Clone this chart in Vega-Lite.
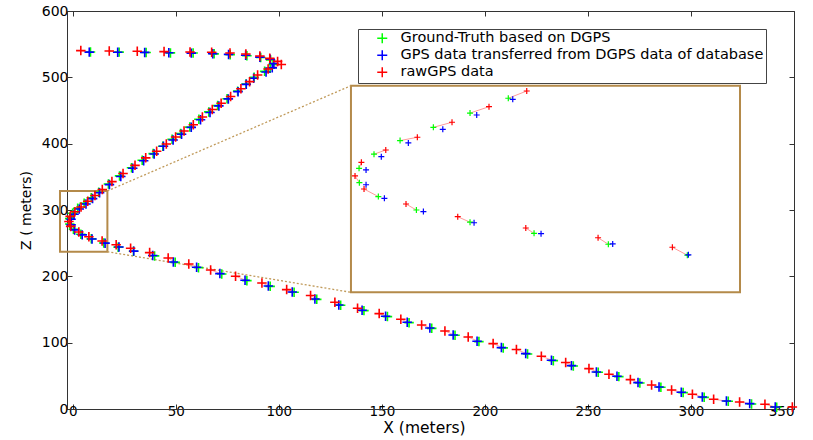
{
  "$schema": "https://vega.github.io/schema/vega-lite/v6.json",
  "autosize": {"type": "none"},
  "padding": {"left": 67, "top": 11, "right": 19, "bottom": 31},
  "width": 727,
  "height": 398,
  "background": "white",
  "config": {
    "view": {"stroke": "#333", "strokeWidth": 1},
    "font": "DejaVu Sans",
    "axis": {"grid": false, "labelFont": "DejaVu Sans", "labelFontSize": 14, "labelColor": "#000", "titleFont": "DejaVu Sans", "titleColor": "#000", "titleFontWeight": "normal", "domainColor": "#333", "tickColor": "#333", "tickSize": -5}
  },
  "datasets": {
    "boxes": [
      {"kind": "zoom", "x": -6.2, "x2": 16.8, "z": 237.1, "z2": 328.7},
      {"kind": "inset", "x": 135.0, "x2": 323.8, "z": 175.9, "z2": 487.4}
    ],
    "connectors": [
      {"x": 16.8, "z": 328.7, "x2": 135.0, "z2": 487.4},
      {"x": 16.8, "z": 237.1, "x2": 135.0, "z2": 175.9}
    ],
    "track": [
      {"i":1,"series":"Ground-Truth based on DGPS","x":8.6,"z":538.3},
      {"i":2,"series":"Ground-Truth based on DGPS","x":22.5,"z":538.0},
      {"i":3,"series":"Ground-Truth based on DGPS","x":35.6,"z":537.4},
      {"i":4,"series":"Ground-Truth based on DGPS","x":47.4,"z":536.8},
      {"i":5,"series":"Ground-Truth based on DGPS","x":58.4,"z":536.6},
      {"i":6,"series":"Ground-Truth based on DGPS","x":68.6,"z":535.4},
      {"i":7,"series":"Ground-Truth based on DGPS","x":76.4,"z":534.2},
      {"i":8,"series":"Ground-Truth based on DGPS","x":84.5,"z":532.6},
      {"i":9,"series":"Ground-Truth based on DGPS","x":91.2,"z":529.8},
      {"i":10,"series":"Ground-Truth based on DGPS","x":96.0,"z":526.1},
      {"i":11,"series":"Ground-Truth based on DGPS","x":97.2,"z":519.6},
      {"i":12,"series":"Ground-Truth based on DGPS","x":95.8,"z":513.6},
      {"i":13,"series":"Ground-Truth based on DGPS","x":93.1,"z":509.0},
      {"i":14,"series":"Ground-Truth based on DGPS","x":88.0,"z":500.1},
      {"i":15,"series":"Ground-Truth based on DGPS","x":84.1,"z":490.0},
      {"i":16,"series":"Ground-Truth based on DGPS","x":80.0,"z":479.2},
      {"i":17,"series":"Ground-Truth based on DGPS","x":74.9,"z":467.8},
      {"i":18,"series":"Ground-Truth based on DGPS","x":70.3,"z":457.4},
      {"i":19,"series":"Ground-Truth based on DGPS","x":66.0,"z":447.9},
      {"i":20,"series":"Ground-Truth based on DGPS","x":61.2,"z":436.8},
      {"i":21,"series":"Ground-Truth based on DGPS","x":56.8,"z":425.0},
      {"i":22,"series":"Ground-Truth based on DGPS","x":52.3,"z":415.4},
      {"i":23,"series":"Ground-Truth based on DGPS","x":48.2,"z":406.6},
      {"i":24,"series":"Ground-Truth based on DGPS","x":43.7,"z":396.0},
      {"i":25,"series":"Ground-Truth based on DGPS","x":39.0,"z":385.0},
      {"i":26,"series":"Ground-Truth based on DGPS","x":33.7,"z":375.1},
      {"i":27,"series":"Ground-Truth based on DGPS","x":28.5,"z":363.7},
      {"i":28,"series":"Ground-Truth based on DGPS","x":22.7,"z":351.4},
      {"i":29,"series":"Ground-Truth based on DGPS","x":17.3,"z":339.2},
      {"i":30,"series":"Ground-Truth based on DGPS","x":12.59,"z":326.7},
      {"i":31,"series":"Ground-Truth based on DGPS","x":8.98,"z":318.3},
      {"i":32,"series":"Ground-Truth based on DGPS","x":5.52,"z":310.2},
      {"i":33,"series":"Ground-Truth based on DGPS","x":2.38,"z":302.7},
      {"i":34,"series":"Ground-Truth based on DGPS","x":-0.08,"z":295.0},
      {"i":35,"series":"Ground-Truth based on DGPS","x":-1.49,"z":287.0},
      {"i":36,"series":"Ground-Truth based on DGPS","x":-1.46,"z":278.9},
      {"i":37,"series":"Ground-Truth based on DGPS","x":0.33,"z":271.0},
      {"i":38,"series":"Ground-Truth based on DGPS","x":3.92,"z":263.4},
      {"i":39,"series":"Ground-Truth based on DGPS","x":8.98,"z":256.5},
      {"i":40,"series":"Ground-Truth based on DGPS","x":15.02,"z":250.2},
      {"i":41,"series":"Ground-Truth based on DGPS","x":22.03,"z":244.0},
      {"i":42,"series":"Ground-Truth based on DGPS","x":29.48,"z":237.8},
      {"i":43,"series":"Ground-Truth based on DGPS","x":39.7,"z":230.8},
      {"i":44,"series":"Ground-Truth based on DGPS","x":49.7,"z":221.1},
      {"i":45,"series":"Ground-Truth based on DGPS","x":61.0,"z":213.1},
      {"i":46,"series":"Ground-Truth based on DGPS","x":72.3,"z":203.6},
      {"i":47,"series":"Ground-Truth based on DGPS","x":84.5,"z":193.5},
      {"i":48,"series":"Ground-Truth based on DGPS","x":95.8,"z":184.9},
      {"i":49,"series":"Ground-Truth based on DGPS","x":107.4,"z":175.9},
      {"i":50,"series":"Ground-Truth based on DGPS","x":118.4,"z":165.3},
      {"i":51,"series":"Ground-Truth based on DGPS","x":130.0,"z":156.3},
      {"i":52,"series":"Ground-Truth based on DGPS","x":141.3,"z":148.3},
      {"i":53,"series":"Ground-Truth based on DGPS","x":152.7,"z":139.3},
      {"i":54,"series":"Ground-Truth based on DGPS","x":163.2,"z":130.2},
      {"i":55,"series":"Ground-Truth based on DGPS","x":174.2,"z":121.6},
      {"i":56,"series":"Ground-Truth based on DGPS","x":185.5,"z":111.1},
      {"i":57,"series":"Ground-Truth based on DGPS","x":197.1,"z":101.6},
      {"i":58,"series":"Ground-Truth based on DGPS","x":208.9,"z":92.1},
      {"i":59,"series":"Ground-Truth based on DGPS","x":220.7,"z":83.0},
      {"i":60,"series":"Ground-Truth based on DGPS","x":233.2,"z":72.9},
      {"i":61,"series":"Ground-Truth based on DGPS","x":242.9,"z":64.9},
      {"i":62,"series":"Ground-Truth based on DGPS","x":255.0,"z":55.3},
      {"i":63,"series":"Ground-Truth based on DGPS","x":265.0,"z":48.8},
      {"i":64,"series":"Ground-Truth based on DGPS","x":275.2,"z":39.3},
      {"i":65,"series":"Ground-Truth based on DGPS","x":285.4,"z":32.7},
      {"i":66,"series":"Ground-Truth based on DGPS","x":296.2,"z":24.7},
      {"i":67,"series":"Ground-Truth based on DGPS","x":306.4,"z":17.6},
      {"i":68,"series":"Ground-Truth based on DGPS","x":318.1,"z":11.6},
      {"i":69,"series":"Ground-Truth based on DGPS","x":329.4,"z":7.6},
      {"i":70,"series":"Ground-Truth based on DGPS","x":341.6,"z":2.6},
      {"i":1,"series":"GPS data transferred from DGPS data of database","x":8.0,"z":538.0},
      {"i":2,"series":"GPS data transferred from DGPS data of database","x":21.8,"z":537.9},
      {"i":3,"series":"GPS data transferred from DGPS data of database","x":34.9,"z":537.6},
      {"i":4,"series":"GPS data transferred from DGPS data of database","x":46.6,"z":537.0},
      {"i":5,"series":"GPS data transferred from DGPS data of database","x":57.5,"z":536.5},
      {"i":6,"series":"GPS data transferred from DGPS data of database","x":67.9,"z":535.7},
      {"i":7,"series":"GPS data transferred from DGPS data of database","x":75.6,"z":534.6},
      {"i":8,"series":"GPS data transferred from DGPS data of database","x":83.9,"z":533.2},
      {"i":9,"series":"GPS data transferred from DGPS data of database","x":90.8,"z":530.4},
      {"i":10,"series":"GPS data transferred from DGPS data of database","x":95.8,"z":527.2},
      {"i":11,"series":"GPS data transferred from DGPS data of database","x":97.6,"z":520.8},
      {"i":12,"series":"GPS data transferred from DGPS data of database","x":96.8,"z":514.3},
      {"i":13,"series":"GPS data transferred from DGPS data of database","x":93.8,"z":508.0},
      {"i":14,"series":"GPS data transferred from DGPS data of database","x":87.8,"z":498.6},
      {"i":15,"series":"GPS data transferred from DGPS data of database","x":84.2,"z":489.4},
      {"i":16,"series":"GPS data transferred from DGPS data of database","x":80.2,"z":478.4},
      {"i":17,"series":"GPS data transferred from DGPS data of database","x":75.5,"z":467.5},
      {"i":18,"series":"GPS data transferred from DGPS data of database","x":70.9,"z":456.9},
      {"i":19,"series":"GPS data transferred from DGPS data of database","x":66.6,"z":446.9},
      {"i":20,"series":"GPS data transferred from DGPS data of database","x":62.0,"z":436.0},
      {"i":21,"series":"GPS data transferred from DGPS data of database","x":57.5,"z":424.6},
      {"i":22,"series":"GPS data transferred from DGPS data of database","x":52.8,"z":414.2},
      {"i":23,"series":"GPS data transferred from DGPS data of database","x":48.7,"z":405.6},
      {"i":24,"series":"GPS data transferred from DGPS data of database","x":44.0,"z":396.0},
      {"i":25,"series":"GPS data transferred from DGPS data of database","x":39.5,"z":384.5},
      {"i":26,"series":"GPS data transferred from DGPS data of database","x":34.4,"z":374.2},
      {"i":27,"series":"GPS data transferred from DGPS data of database","x":29.1,"z":363.0},
      {"i":28,"series":"GPS data transferred from DGPS data of database","x":23.3,"z":350.4},
      {"i":29,"series":"GPS data transferred from DGPS data of database","x":17.8,"z":338.3},
      {"i":30,"series":"GPS data transferred from DGPS data of database","x":13.01,"z":326.1},
      {"i":31,"series":"GPS data transferred from DGPS data of database","x":9.61,"z":317.2},
      {"i":32,"series":"GPS data transferred from DGPS data of database","x":6.41,"z":309.1},
      {"i":33,"series":"GPS data transferred from DGPS data of database","x":3.16,"z":301.4},
      {"i":34,"series":"GPS data transferred from DGPS data of database","x":0.61,"z":293.6},
      {"i":35,"series":"GPS data transferred from DGPS data of database","x":-0.83,"z":286.1},
      {"i":36,"series":"GPS data transferred from DGPS data of database","x":-0.83,"z":277.7},
      {"i":37,"series":"GPS data transferred from DGPS data of database","x":0.90,"z":270.0},
      {"i":38,"series":"GPS data transferred from DGPS data of database","x":4.58,"z":262.5},
      {"i":39,"series":"GPS data transferred from DGPS data of database","x":9.36,"z":256.2},
      {"i":40,"series":"GPS data transferred from DGPS data of database","x":15.68,"z":250.0},
      {"i":41,"series":"GPS data transferred from DGPS data of database","x":22.44,"z":244.2},
      {"i":42,"series":"GPS data transferred from DGPS data of database","x":29.58,"z":238.0},
      {"i":43,"series":"GPS data transferred from DGPS data of database","x":38.8,"z":231.3},
      {"i":44,"series":"GPS data transferred from DGPS data of database","x":48.8,"z":221.6},
      {"i":45,"series":"GPS data transferred from DGPS data of database","x":60.1,"z":213.6},
      {"i":46,"series":"GPS data transferred from DGPS data of database","x":71.4,"z":204.1},
      {"i":47,"series":"GPS data transferred from DGPS data of database","x":83.6,"z":194.0},
      {"i":48,"series":"GPS data transferred from DGPS data of database","x":94.9,"z":185.4},
      {"i":49,"series":"GPS data transferred from DGPS data of database","x":106.5,"z":176.4},
      {"i":50,"series":"GPS data transferred from DGPS data of database","x":117.5,"z":165.8},
      {"i":51,"series":"GPS data transferred from DGPS data of database","x":129.1,"z":156.8},
      {"i":52,"series":"GPS data transferred from DGPS data of database","x":140.4,"z":148.8},
      {"i":53,"series":"GPS data transferred from DGPS data of database","x":151.8,"z":139.8},
      {"i":54,"series":"GPS data transferred from DGPS data of database","x":162.3,"z":130.7},
      {"i":55,"series":"GPS data transferred from DGPS data of database","x":173.3,"z":122.1},
      {"i":56,"series":"GPS data transferred from DGPS data of database","x":184.6,"z":111.6},
      {"i":57,"series":"GPS data transferred from DGPS data of database","x":196.2,"z":102.1},
      {"i":58,"series":"GPS data transferred from DGPS data of database","x":208.0,"z":92.6},
      {"i":59,"series":"GPS data transferred from DGPS data of database","x":219.8,"z":83.5},
      {"i":60,"series":"GPS data transferred from DGPS data of database","x":232.3,"z":73.4},
      {"i":61,"series":"GPS data transferred from DGPS data of database","x":242.0,"z":65.4},
      {"i":62,"series":"GPS data transferred from DGPS data of database","x":254.1,"z":55.8},
      {"i":63,"series":"GPS data transferred from DGPS data of database","x":264.1,"z":49.3},
      {"i":64,"series":"GPS data transferred from DGPS data of database","x":274.3,"z":39.8},
      {"i":65,"series":"GPS data transferred from DGPS data of database","x":284.5,"z":33.2},
      {"i":66,"series":"GPS data transferred from DGPS data of database","x":295.3,"z":25.2},
      {"i":67,"series":"GPS data transferred from DGPS data of database","x":305.5,"z":18.1},
      {"i":68,"series":"GPS data transferred from DGPS data of database","x":317.2,"z":12.1},
      {"i":69,"series":"GPS data transferred from DGPS data of database","x":328.5,"z":8.1},
      {"i":70,"series":"GPS data transferred from DGPS data of database","x":340.9,"z":3.0},
      {"i":1,"series":"rawGPS data","x":3.9,"z":540.3},
      {"i":2,"series":"rawGPS data","x":17.7,"z":539.7},
      {"i":3,"series":"rawGPS data","x":31.3,"z":539.3},
      {"i":4,"series":"rawGPS data","x":44.3,"z":538.8},
      {"i":5,"series":"rawGPS data","x":56.9,"z":538.2},
      {"i":6,"series":"rawGPS data","x":67.4,"z":537.8},
      {"i":7,"series":"rawGPS data","x":76.3,"z":536.7},
      {"i":8,"series":"rawGPS data","x":84.0,"z":535.2},
      {"i":9,"series":"rawGPS data","x":90.8,"z":532.2},
      {"i":10,"series":"rawGPS data","x":95.6,"z":528.6},
      {"i":11,"series":"rawGPS data","x":99.4,"z":524.0},
      {"i":12,"series":"rawGPS data","x":101.2,"z":519.4},
      {"i":13,"series":"rawGPS data","x":94.8,"z":512.5},
      {"i":14,"series":"rawGPS data","x":89.7,"z":503.5},
      {"i":15,"series":"rawGPS data","x":85.8,"z":493.5},
      {"i":16,"series":"rawGPS data","x":81.6,"z":482.8},
      {"i":17,"series":"rawGPS data","x":76.6,"z":471.2},
      {"i":18,"series":"rawGPS data","x":72.0,"z":461.0},
      {"i":19,"series":"rawGPS data","x":67.7,"z":451.4},
      {"i":20,"series":"rawGPS data","x":62.9,"z":440.2},
      {"i":21,"series":"rawGPS data","x":58.5,"z":428.5},
      {"i":22,"series":"rawGPS data","x":54.0,"z":419.0},
      {"i":23,"series":"rawGPS data","x":49.9,"z":410.1},
      {"i":24,"series":"rawGPS data","x":45.4,"z":399.6},
      {"i":25,"series":"rawGPS data","x":40.7,"z":388.5},
      {"i":26,"series":"rawGPS data","x":35.4,"z":378.6},
      {"i":27,"series":"rawGPS data","x":30.2,"z":367.3},
      {"i":28,"series":"rawGPS data","x":24.4,"z":355.0},
      {"i":29,"series":"rawGPS data","x":19.0,"z":342.8},
      {"i":30,"series":"rawGPS data","x":14.33,"z":330.8},
      {"i":31,"series":"rawGPS data","x":10.77,"z":321.9},
      {"i":32,"series":"rawGPS data","x":7.28,"z":313.1},
      {"i":33,"series":"rawGPS data","x":4.01,"z":304.6},
      {"i":34,"series":"rawGPS data","x":1.03,"z":297.4},
      {"i":35,"series":"rawGPS data","x":-1.27,"z":290.4},
      {"i":36,"series":"rawGPS data","x":-1.87,"z":282.7},
      {"i":37,"series":"rawGPS data","x":-1.02,"z":275.3},
      {"i":38,"series":"rawGPS data","x":2.94,"z":266.8},
      {"i":39,"series":"rawGPS data","x":7.82,"z":259.6},
      {"i":40,"series":"rawGPS data","x":14.24,"z":253.2},
      {"i":41,"series":"rawGPS data","x":21.06,"z":247.7},
      {"i":42,"series":"rawGPS data","x":28.07,"z":242.3},
      {"i":43,"series":"rawGPS data","x":37.3,"z":235.8},
      {"i":44,"series":"rawGPS data","x":46.3,"z":227.7},
      {"i":45,"series":"rawGPS data","x":56.3,"z":218.6},
      {"i":46,"series":"rawGPS data","x":66.9,"z":209.6},
      {"i":47,"series":"rawGPS data","x":79.0,"z":200.1},
      {"i":48,"series":"rawGPS data","x":91.8,"z":190.0},
      {"i":49,"series":"rawGPS data","x":103.8,"z":180.0},
      {"i":50,"series":"rawGPS data","x":115.4,"z":171.0},
      {"i":51,"series":"rawGPS data","x":127.2,"z":160.9},
      {"i":52,"series":"rawGPS data","x":138.2,"z":151.8},
      {"i":53,"series":"rawGPS data","x":148.7,"z":143.8},
      {"i":54,"series":"rawGPS data","x":159.2,"z":135.2},
      {"i":55,"series":"rawGPS data","x":169.3,"z":126.6},
      {"i":56,"series":"rawGPS data","x":180.6,"z":117.6},
      {"i":57,"series":"rawGPS data","x":191.9,"z":108.5},
      {"i":58,"series":"rawGPS data","x":204.0,"z":98.6},
      {"i":59,"series":"rawGPS data","x":215.3,"z":89.6},
      {"i":60,"series":"rawGPS data","x":227.4,"z":79.5},
      {"i":61,"series":"rawGPS data","x":239.2,"z":70.0},
      {"i":62,"series":"rawGPS data","x":250.5,"z":60.9},
      {"i":63,"series":"rawGPS data","x":260.2,"z":52.3},
      {"i":64,"series":"rawGPS data","x":270.6,"z":44.3},
      {"i":65,"series":"rawGPS data","x":280.9,"z":36.2},
      {"i":66,"series":"rawGPS data","x":290.6,"z":28.6},
      {"i":67,"series":"rawGPS data","x":300.7,"z":22.2},
      {"i":68,"series":"rawGPS data","x":311.0,"z":14.6},
      {"i":69,"series":"rawGPS data","x":323.6,"z":10.6},
      {"i":70,"series":"rawGPS data","x":335.9,"z":7.1},
      {"i":71,"series":"rawGPS data","x":349.2,"z":3.0}
    ]
  },
  "layer": [
    {
      "layer": [
        {
          "data": {"name": "boxes"},
          "transform": [{"filter": "datum.kind == 'inset'"}],
          "mark": {"type": "rect", "fill": "white", "stroke": "#b48a4a", "strokeWidth": 2},
          "encoding": {
            "x": {"field": "x", "type": "quantitative", "scale": {"domain": [-2.8, 350], "nice": false, "zero": false},
                  "axis": {"title": "X (meters)", "values": [0, 50, 100, 150, 200, 250, 300, 350], "labelFontSize": 13.5, "labelPadding": 0, "titleFontSize": 15.5, "titlePadding": 3, "titleX": 357}},
            "x2": {"field": "x2"},
            "y": {"field": "z", "type": "quantitative", "scale": {"domain": [0, 600], "nice": false, "zero": false},
                  "axis": {"title": "Z ( meters)", "values": [0, 100, 200, 300, 400, 500, 600], "labelPadding": 4, "titleFontSize": 14, "titlePadding": 8}},
            "y2": {"field": "z2"}
          }
        },
        {
          "data": {"name": "boxes"},
          "transform": [{"filter": "datum.kind == 'zoom'"}],
          "mark": {"type": "rect", "fillOpacity": 0, "stroke": "#b48a4a", "strokeWidth": 2},
          "encoding": {
            "x": {"field": "x", "type": "quantitative", "scale": {"domain": [-2.8, 350], "nice": false, "zero": false}},
            "x2": {"field": "x2"},
            "y": {"field": "z", "type": "quantitative", "scale": {"domain": [0, 600], "nice": false, "zero": false}},
            "y2": {"field": "z2"}
          }
        },
        {
          "data": {"name": "connectors"},
          "mark": {"type": "rule", "stroke": "#c09a5a", "strokeWidth": 1.3, "strokeDash": [2, 2]},
          "encoding": {
            "x": {"field": "x", "type": "quantitative", "scale": {"domain": [-2.8, 350], "nice": false, "zero": false}},
            "x2": {"field": "x2"},
            "y": {"field": "z", "type": "quantitative", "scale": {"domain": [0, 600], "nice": false, "zero": false}},
            "y2": {"field": "z2"}
          }
        },
        {
          "data": {"name": "track"},
          "transform": [{"filter": "datum.series != 'GPS data transferred from DGPS data of database'"}],
          "mark": {"type": "line", "stroke": "#ff8a8a", "strokeWidth": 0.8},
          "encoding": {
            "x": {"field": "x", "type": "quantitative", "scale": {"domain": [-2.8, 350], "nice": false, "zero": false}},
            "y": {"field": "z", "type": "quantitative", "scale": {"domain": [0, 600], "nice": false, "zero": false}},
            "detail": {"field": "i", "type": "nominal"}
          }
        },
        {
          "data": {"name": "track"},
          "mark": {"type": "point", "shape": "M-1,0H1M0,-1V1", "filled": false, "size": 90, "strokeWidth": 1.6, "opacity": 1},
          "encoding": {
            "x": {"field": "x", "type": "quantitative", "scale": {"domain": [-2.8, 350], "nice": false, "zero": false}},
            "y": {"field": "z", "type": "quantitative", "scale": {"domain": [0, 600], "nice": false, "zero": false}},
            "color": {
              "field": "series", "type": "nominal",
              "scale": {"domain": ["Ground-Truth based on DGPS", "GPS data transferred from DGPS data of database", "rawGPS data"], "range": ["#00ff00", "#0000ff", "#ff0000"]},
              "legend": {"title": null, "orient": "none", "legendX": 291, "legendY": 18, "symbolType": "M-1,0H1M0,-1V1", "symbolSize": 100, "symbolStrokeWidth": 1.5, "labelFont": "DejaVu Sans", "labelFontSize": 14.5, "labelColor": "#000", "labelLimit": 600, "padding": 2, "rowPadding": 0, "symbolOffset": 15, "labelOffset": 11, "strokeColor": "#444", "fillColor": "white"}
            }
          }
        }
      ]
    },
    {
      "data": {"name": "boxes"},
      "mark": {"type": "point", "opacity": 0},
      "encoding": {
        "x": {"field": "x", "type": "quantitative", "scale": {"domain": [-2.8, 350], "nice": false, "zero": false},
              "axis": {"orient": "top", "values": [0, 50, 100, 150, 200, 250, 300, 350], "labels": false, "domain": false, "title": null}},
        "y": {"field": "z", "type": "quantitative", "scale": {"domain": [0, 600], "nice": false, "zero": false},
              "axis": {"orient": "right", "values": [0, 100, 200, 300, 400, 500, 600], "labels": false, "domain": false, "title": null}}
      }
    },
    {
      "layer": [
        {
          "data": {"name": "track"},
          "transform": [
            {"filter": "datum.x >= -2.25 && datum.x <= 34.45 && datum.z >= 216.8 && datum.z <= 333.8"},
            {"filter": "datum.series != 'GPS data transferred from DGPS data of database'"}
          ],
          "mark": {"type": "line", "stroke": "#ff9a9a", "strokeWidth": 1},
          "encoding": {
            "x": {"field": "x", "type": "quantitative", "scale": {"domain": [-2.25, 34.45], "range": [284, 673], "nice": false, "zero": false}, "axis": null},
            "y": {"field": "z", "type": "quantitative", "scale": {"domain": [216.8, 333.8], "range": [281.3, 74.7], "nice": false, "zero": false},
                  "axis": {"orient": "left", "offset": -284, "values": [330.8, 313.8, 296.8, 280.0, 263.2, 246.2, 229.4], "labels": false, "domain": false, "tickSize": -4, "tickColor": "#999", "title": null}},
            "detail": {"field": "i", "type": "nominal"}
          }
        },
        {
          "data": {"name": "track"},
          "transform": [
            {"filter": "datum.x >= -2.25 && datum.x <= 34.45 && datum.z >= 216.8 && datum.z <= 333.8"}
          ],
          "mark": {"type": "point", "shape": "M-1,0H1M0,-1V1", "filled": false, "size": 36, "strokeWidth": 1.2, "opacity": 1},
          "encoding": {
            "x": {"field": "x", "type": "quantitative", "scale": {"domain": [-2.25, 34.45], "range": [284, 673], "nice": false, "zero": false}},
            "y": {"field": "z", "type": "quantitative", "scale": {"domain": [216.8, 333.8], "range": [281.3, 74.7], "nice": false, "zero": false}},
            "color": {
              "field": "series", "type": "nominal",
              "scale": {"domain": ["Ground-Truth based on DGPS", "GPS data transferred from DGPS data of database", "rawGPS data"], "range": ["#00ff00", "#0000ff", "#ff0000"]}
            }
          }
        }
      ]
    }
  ],
  "resolve": {"scale": {"x": "independent", "y": "independent"}}
}
